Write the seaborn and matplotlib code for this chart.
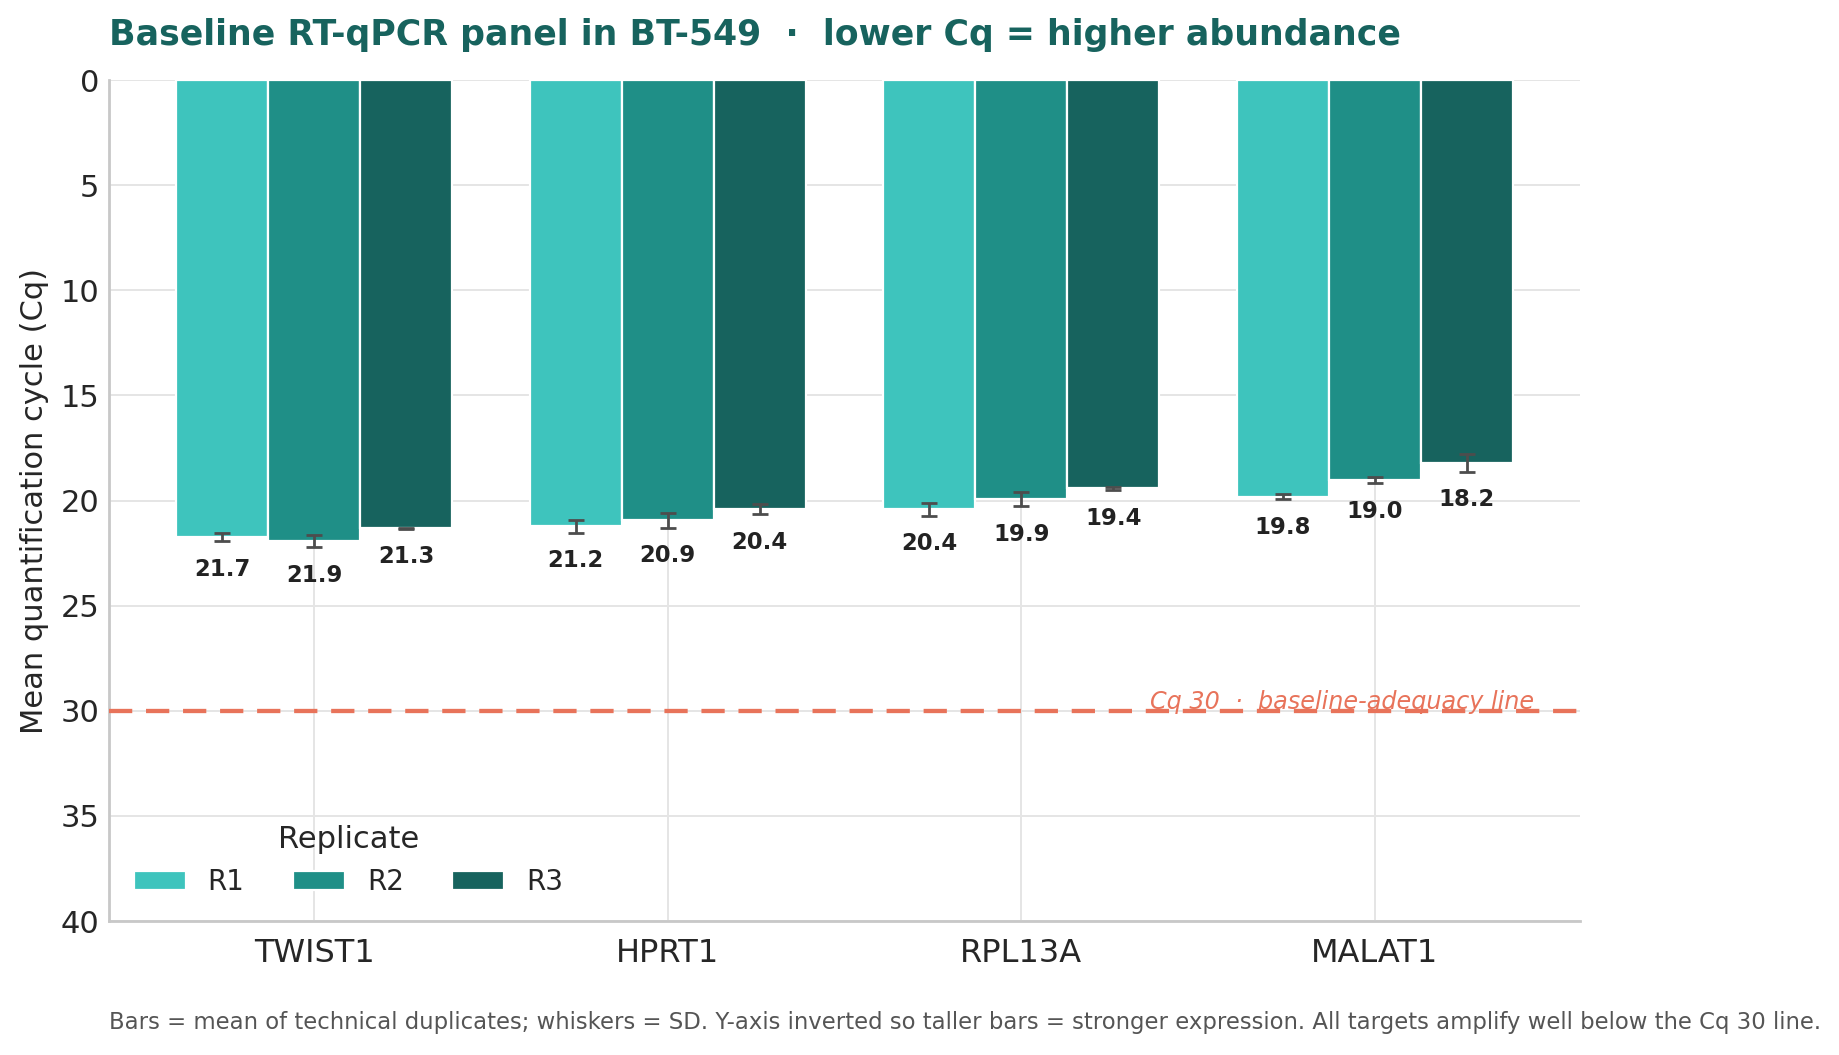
import numpy as np
import pandas as pd
import matplotlib
matplotlib.use("Agg")
import matplotlib.pyplot as plt
import seaborn as sns

# data
targets = ["TWIST1", "HPRT1", "RPL13A", "MALAT1"]
replicates = ["R1", "R2", "R3"]
cq_r1 = [21.72, 21.22, 20.42, 19.81]
cq_r2 = [21.93, 20.93, 19.93, 19.03]
cq_r3 = [21.31, 20.41, 19.42, 18.20]
sd_r1 = [0.20, 0.30, 0.30, 0.12]
sd_r2 = [0.27, 0.36, 0.33, 0.15]
sd_r3 = [0.03, 0.25, 0.09, 0.42]
cq_threshold = 30

colors = ["#3EC4BD", "#1F8F87", "#17635E"]
title_color = "#17635E"
line_color = "#E8735A"

rows = []
for rep, vals, sds in zip(replicates, [cq_r1, cq_r2, cq_r3], [sd_r1, sd_r2, sd_r3]):
    for t, v, s in zip(targets, vals, sds):
        rows.append({"Target": t, "Replicate": rep, "Cq": v, "SD": s})
df = pd.DataFrame(rows)

sns.set_theme(style="whitegrid")
plt.rcParams["font.family"] = ["DejaVu Sans"]

fig = plt.figure(figsize=(9.2, 5.275), dpi=200)
ax = fig.add_axes([0.0593, 0.127, 0.7994, 0.797])

sns.barplot(data=df, x="Target", y="Cq", hue="Replicate", order=targets,
            hue_order=replicates, palette=colors, errorbar=None, width=0.78,
            gap=0.0, edgecolor="white", linewidth=0.8, saturation=1, ax=ax)

# whiskers + value labels
for rep, cont in zip(replicates, ax.containers):
    sub = df[df["Replicate"] == rep].set_index("Target").loc[targets]
    xs = [p.get_x() + p.get_width() / 2 for p in cont.patches]
    ax.errorbar(xs, sub["Cq"], yerr=sub["SD"], fmt="none", ecolor="#4D4D4D",
                elinewidth=1.0, capsize=2.8, capthick=1.0, zorder=4)
    for x, v, s in zip(xs, sub["Cq"], sub["SD"]):
        ax.annotate(f"{v:.1f}", (x, v + s), xytext=(0, -6), textcoords="offset points",
                    ha="center", va="top", fontsize=8.2, fontweight="bold", color="#222222")

ax.axhline(cq_threshold, color=line_color, lw=1.55, ls=(0, (5.4, 3.2)), zorder=3)
ax.text(3.45, cq_threshold + 0.17, "Cq 30  ·  baseline-adequacy line", ha="right", va="bottom",
        fontsize=8.6, style="italic", color=line_color)

ax.set_ylim(40, 0)
ax.set_xlim(-0.58, 3.58)
ax.set_yticks(range(0, 41, 5))
ax.set_xlabel("")
ax.set_ylabel("Mean quantification cycle (Cq)", fontsize=11)
ax.tick_params(axis="y", labelsize=11, length=0)
ax.tick_params(axis="x", labelsize=11.5, length=0, pad=6)
ax.grid(True, color="#E5E5E5", lw=0.7)
ax.set_axisbelow(True)
sns.despine(ax=ax)
for sp in ["left", "bottom"]:
    ax.spines[sp].set_color("#C8C8C8")
    ax.spines[sp].set_linewidth(1.0)

leg = ax.legend(title="Replicate", loc="lower left", ncol=3, frameon=False,
                fontsize=10, title_fontsize=11, handlelength=1.85, handletextpad=0.8,
                columnspacing=1.75)

fig.text(0.0593, 0.967, "Baseline RT-qPCR panel in BT-549  ·  lower Cq = higher abundance",
         fontsize=12.5, fontweight="bold", color=title_color, ha="left", va="center")
fig.text(0.0593, 0.031, "Bars = mean of technical duplicates; whiskers = SD. Y-axis inverted so taller bars = "
         "stronger expression. All targets amplify well below the Cq 30 line.",
         fontsize=8.2, color="#555555", ha="left", va="center")

fig.savefig("out.png", dpi=200)
